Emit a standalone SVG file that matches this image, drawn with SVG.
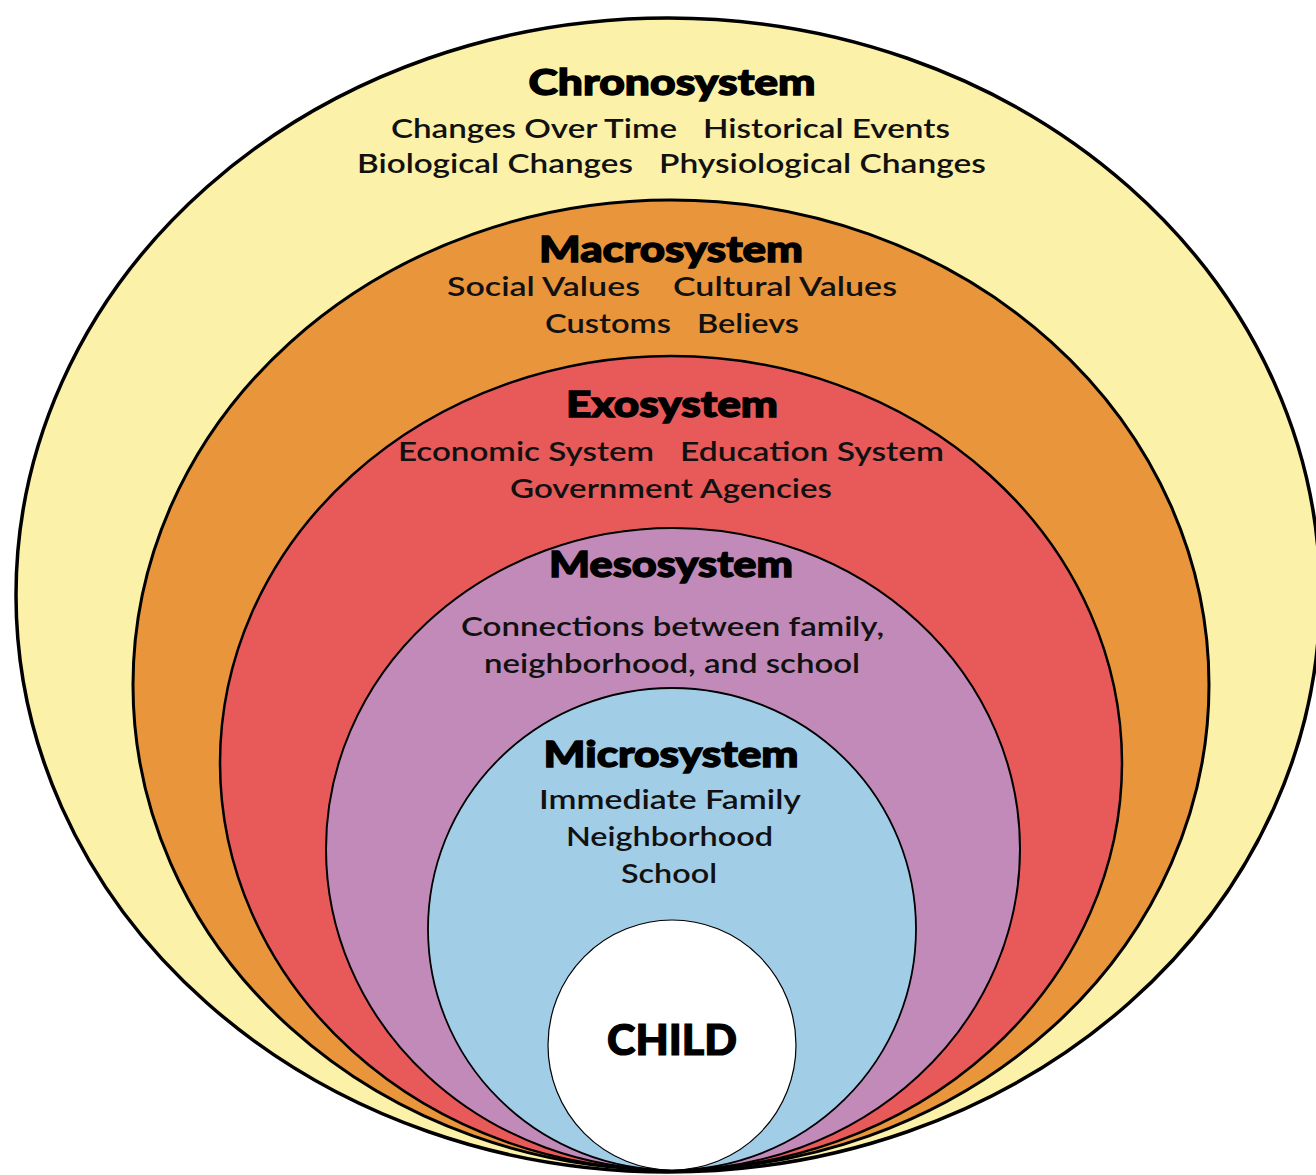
<svg xmlns="http://www.w3.org/2000/svg" width="1316" height="1175" viewBox="0 0 1316 1175">
<style>
.ring{stroke:#000;}
.t{font-family:"Lato","Open Sans","Liberation Sans",sans-serif;font-weight:900;font-size:36px;fill:#000;stroke:#000;stroke-width:1.3px;text-anchor:middle;}
.b{font-family:"Lato","Open Sans","Liberation Sans",sans-serif;font-weight:600;font-size:26px;fill:#111;}
.c{font-family:"Lato","Open Sans","Liberation Sans",sans-serif;font-weight:900;font-size:42px;fill:#000;stroke:#000;stroke-width:1.2px;}
</style>
<rect width="1316" height="1175" fill="#fff"/>
<g id="chronosystem">
<ellipse class="ring" cx="668" cy="595" rx="652" ry="577" fill="#FCF1A8" stroke-width="3.5"/>
<text class="t" x="672" y="95" textLength="287" lengthAdjust="spacingAndGlyphs">Chronosystem</text>
<text class="b" x="391" y="138" textLength="286" lengthAdjust="spacingAndGlyphs">Changes Over Time</text>
<text class="b" x="703" y="138" textLength="247" lengthAdjust="spacingAndGlyphs">Historical Events</text>
<text class="b" x="357" y="173" textLength="276" lengthAdjust="spacingAndGlyphs">Biological Changes</text>
<text class="b" x="659" y="173" textLength="327" lengthAdjust="spacingAndGlyphs">Physiological Changes</text>
</g>
<g id="macrosystem">
<ellipse class="ring" cx="671" cy="685" rx="538" ry="485" fill="#E9953C" stroke-width="3"/>
<text class="t" x="671" y="262" textLength="264" lengthAdjust="spacingAndGlyphs">Macrosystem</text>
<text class="b" x="447" y="296" textLength="193" lengthAdjust="spacingAndGlyphs">Social Values</text>
<text class="b" x="673" y="296" textLength="224" lengthAdjust="spacingAndGlyphs">Cultural Values</text>
<text class="b" x="545" y="333" textLength="126" lengthAdjust="spacingAndGlyphs">Customs</text>
<text class="b" x="697" y="333" textLength="102" lengthAdjust="spacingAndGlyphs">Believs</text>
</g>
<g id="exosystem">
<ellipse class="ring" cx="671" cy="763" rx="451" ry="407" fill="#E85A5A" stroke-width="2.5"/>
<text class="t" x="672" y="417" textLength="212" lengthAdjust="spacingAndGlyphs">Exosystem</text>
<text class="b" x="398" y="461" textLength="256" lengthAdjust="spacingAndGlyphs">Economic System</text>
<text class="b" x="680" y="461" textLength="264" lengthAdjust="spacingAndGlyphs">Education System</text>
<text class="b" x="510" y="498" textLength="322" lengthAdjust="spacingAndGlyphs">Government Agencies</text>
</g>
<g id="mesosystem">
<ellipse class="ring" cx="673" cy="849" rx="347" ry="321" fill="#C18AB9" stroke-width="2"/>
<text class="t" x="671" y="577" textLength="244" lengthAdjust="spacingAndGlyphs">Mesosystem</text>
<text class="b" x="461" y="636" textLength="423" lengthAdjust="spacingAndGlyphs">Connections between family,</text>
<text class="b" x="484" y="673" textLength="376" lengthAdjust="spacingAndGlyphs">neighborhood, and school</text>
</g>
<g id="microsystem">
<ellipse class="ring" cx="672" cy="929" rx="244" ry="241" fill="#A2CDE7" stroke-width="1.8"/>
<text class="t" x="671" y="767" textLength="255" lengthAdjust="spacingAndGlyphs">Microsystem</text>
<text class="b" x="539" y="809" textLength="262" lengthAdjust="spacingAndGlyphs">Immediate Family</text>
<text class="b" x="566" y="846" textLength="207" lengthAdjust="spacingAndGlyphs">Neighborhood</text>
<text class="b" x="621" y="883" textLength="96" lengthAdjust="spacingAndGlyphs">School</text>
</g>
<g id="child">
<ellipse class="ring" cx="672" cy="1045" rx="124" ry="125" fill="#fff" stroke-width="1.2"/>
<text class="c" x="607" y="1055" textLength="130" lengthAdjust="spacingAndGlyphs">CHILD</text>
</g>
<g id="connectors"/>
</svg>
